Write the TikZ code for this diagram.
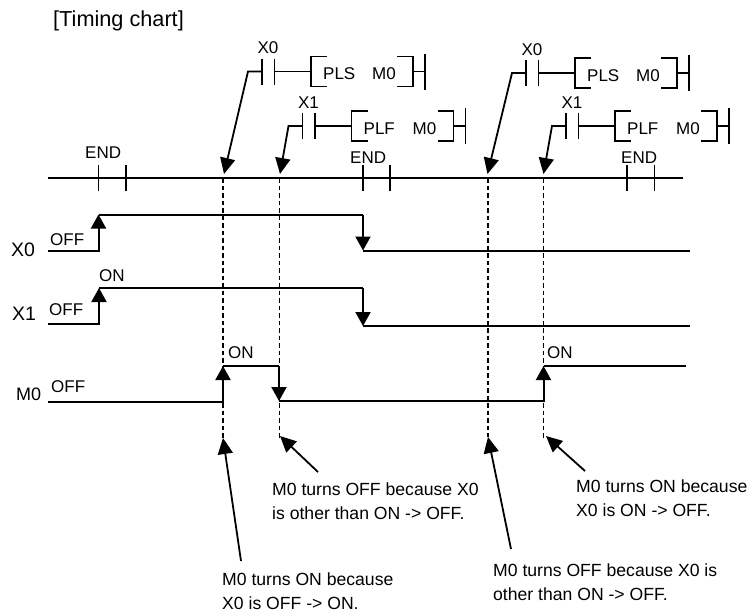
\documentclass[tikz,border=0pt]{standalone}
\usepackage{fontspec}
\setmainfont{Liberation Sans}
\usetikzlibrary{positioning,arrows.meta}

\tikzset{
  lbl/.style={inner sep=0pt, anchor=base west, font=\fontsize{17}{21}\selectfont},
  note/.style={inner sep=0pt, anchor=north west, align=left, font=\fontsize{17.6}{23.5}\selectfont},
  wave/.style={line width=2pt, line join=miter},
  rise/.style={wave, -{Triangle[length=14pt,width=15pt]}},
  rung/.style={line width=1.8pt},
  lead/.style={line width=1.8pt, -{Triangle[length=16pt,width=15pt]}},
  probe/.style={line width=1.6pt, dash pattern=on 4.5pt off 3pt}
}

\begin{document}
\begin{tikzpicture}[x=1pt, y=-1pt]
  \useasboundingbox (0,0) rectangle (755,613);
  \node[lbl, font=\fontsize{21.7}{26}\selectfont] (title) at (53,27) {[Timing chart]};
  % time axis
  \draw[line width=1.8pt] (48,178) -- (683,178);
  \foreach \v in {98.5,126,363,390,627,654.5}
    \draw[line width=1.6pt] (\v,165) -- (\v,191);
  \node[lbl] (end1) at (85,158) {END};
  \node[lbl] (end2) at (350,163) {END};
  \node[lbl] (end3) at (621,163) {END};
  % ladder rungs
  \foreach \a/\y/\op/\nm/\tx [count=\i] in {262/71.5/PLS/X0/224, 302.5/126/PLF/X1/280, 526/73/PLS/X0/487.5, 566/126/PLF/X1/543.5} {
    \coordinate (elbow\i) at (\a-14,\y);
    \coordinate (tip\i) at (\tx,174);
    \coordinate (bar\i) at (\a,\y);
    \draw[lead] (bar\i) -- (elbow\i) -- (tip\i);
    \draw[rung] (\a,\y-13) -- (\a,\y+13);
    \draw[rung] (\a+12.5,\y-13) -- (\a+12.5,\y+13);
    \draw[rung] (\a+12.5,\y) -- (\a+49,\y);
    \draw[rung] (\a+65,\y-15) -- (\a+49,\y-15) -- (\a+49,\y+15) -- (\a+65,\y+15);
    \draw[rung] (\a+135,\y-15) -- (\a+151,\y-15) -- (\a+151,\y+15) -- (\a+135,\y+15);
    \draw[rung] (\a+151,\y) -- (\a+163,\y);
    \draw[rung] (\a+163,\y-18) -- (\a+163,\y+18);
    \node[lbl, anchor=base] (contact\i) at (\a+6,\y-18) {\nm};
    \node[lbl] (op\i) at (\a+61,\y+8) {\op};
    \node[lbl] (dev\i) at (\a+110,\y+8) {M0};
  }
  % signals
  \node[lbl, font=\fontsize{19.5}{23}\selectfont] (x0) at (11,256) {X0};
  \node[lbl, font=\fontsize{19.5}{23}\selectfont] (x1) at (12,320) {X1};
  \node[lbl, font=\fontsize{18}{22}\selectfont] (m0) at (16,400) {M0};
  \draw[rise] (48,251) -- (98.5,251) -- (98.5,214.5);
  \draw[wave] (98.5,214.5) -- (363,214.5);
  \draw[rise] (363,214.5) -- (363,250.5);
  \draw[wave] (363,250.5) -- (690,250.5);
  \draw[rise] (48,324) -- (99,324) -- (99,288);
  \draw[wave] (99,288) -- (363,288);
  \draw[rise] (363,288) -- (363,326);
  \draw[wave] (363,326) -- (690,326);
  \draw[rise] (48,402) -- (223,402) -- (223,366);
  \draw[wave] (223,366) -- (279,366);
  \draw[rise] (279,366) -- (279,401);
  \draw[rise] (279,401) -- (543.5,401) -- (543.5,366);
  \draw[wave] (543.5,366) -- (686,366);
  \node[lbl] (offx0) at (50,245) {OFF};
  \node[lbl] (offx1) at (49,315) {OFF};
  \node[lbl] (offm0) at (51,392) {OFF};
  \node[lbl] (onx1) at (99,281) {ON};
  \node[lbl] (onm1) at (228,358) {ON};
  \node[lbl] (onm2) at (547,358) {ON};
  % dashed probes
  \foreach \v/\e [count=\i] in {223/438, 279.5/438, 488/437, 543.5/440} {
    \coordinate (top\i) at (\v,178);
    \coordinate (low\i) at (\v,\e);
    \draw[probe] (top\i) -- (low\i);
  }
  % notes
  \node[note] (n1) at (222,573) {M0 turns ON because\\X0 is OFF -> ON.};
  \node[note] (n2) at (272,483) {M0 turns OFF because X0\\is other than ON -> OFF.};
  \node[note] (n3) at (493,564) {M0 turns OFF because X0 is\\other than ON -> OFF.};
  \node[note] (n4) at (576,480) {M0 turns ON because\\X0 is ON -> OFF.};
  \coordinate (tail1) at (241,561);
  \coordinate (tail2) at (318,472);
  \coordinate (tail3) at (511,549);
  \coordinate (tail4) at (585,471);
  \coordinate (head1) at (223,438);
  \coordinate (head2) at (280,436);
  \coordinate (head3) at (488,437);
  \coordinate (head4) at (546,436);
  \foreach \i in {1,2,3,4}
    \draw[lead] (tail\i) -- (head\i);
\end{tikzpicture}
\end{document}
